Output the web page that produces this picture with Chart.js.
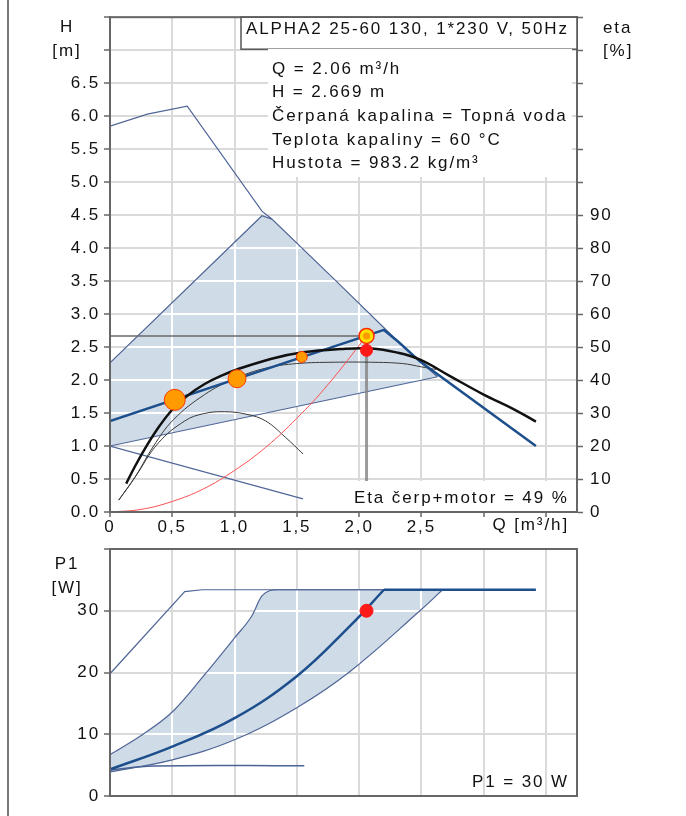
<!DOCTYPE html>
<html>
<head>
<meta charset="utf-8">
<title>ALPHA2 25-60 130</title>
<script src="https://cdn.jsdelivr.net/npm/chart.js@4.4.1/dist/chart.umd.min.js"></script>
<style>
  body { margin: 0; background: #fff; }
  #page { position: relative; width: 686px; height: 816px; overflow: hidden; }
  #frame { position: absolute; left: 7px; top: 0; width: 2px; height: 816px; background: #7a7a7a; }
  #head-chart { position: absolute; left: 0; top: 0; }
  #power-chart { position: absolute; left: 0; top: 530px; }
</style>
</head>
<body>
<div id="page">
  <div id="frame"></div>
  <canvas id="power-chart" width="686" height="286"></canvas>
  <canvas id="head-chart" width="686" height="545"></canvas>
</div>
<script>
// Pump curves, Q in m3/h

// Duty point
const dutyQ = 2.06;
const dutyH = 2.669;
const dutyEta = 49;
const dutyP1 = 30;

// Tick labels
const qTickLabels = ['0', '0,5', '1,0', '1,5', '2,0', '2,5', '', ''];
const hTickLabels = ['0.0', '0.5', '1.0', '1.5', '2.0', '2.5', '3.0', '3.5', '4.0', '4.5', '5.0', '5.5', '6.0', '6.5', '', ''];
const etaTickLabels = ['0', '10', '20', '30', '40', '50', '60', '70', '80', '90', '', '', '', '', '', ''];
const p1TickLabels = ['0', '10', '20', '30', ''];

// Texts
const titleText = 'ALPHA2 25-60 130, 1*230 V, 50Hz';
const infoLines = ['Q = 2.06 m³/h', 'H = 2.669 m', 'Čerpaná kapalina = Topná voda', 'Teplota kapaliny = 60 °C', 'Hustota = 983.2 kg/m³'];
const etaNote = 'Eta čerp+motor = 49 %';
const p1Note = 'P1 = 30 W';

// H curves [m]
const maxQ = [0, 0.3, 0.62, 1.22, 1.3];
const maxH = [5.85, 6.03, 6.15, 4.56, 4.44];
const rangeTopQ = [0, 1.22, 1.3, 1.8, 2.315, 2.49, 2.63];
const rangeTopH = [2.26, 4.49, 4.44, 3.53, 2.58, 2.28, 2.05];
const rangeLowQ = [0, 2.63];
const rangeLowH = [1.0, 2.05];
const autoQ = [0, 2.2, 2.315, 2.49, 3.42];
const autoH = [1.38, 2.76, 2.58, 2.28, 1.0];
const minQ = [0, 1.55];
const minH = [1.0, 0.2];
const systemQ = [0, 0.25, 0.5, 0.75, 1.0, 1.25, 1.5, 1.75, 2.06];
const systemH = [0, 0.04, 0.16, 0.35, 0.63, 0.98, 1.42, 1.93, 2.669];
const stepQ = [0.52, 1.02, 1.54];
const stepH = [1.70, 2.02, 2.35];

// Efficiency curves [%]
const etaMaxQ = [0.13, 0.2, 0.3, 0.4, 0.5, 0.62, 0.76, 0.9, 1.02, 1.29, 1.55, 1.85, 2.1, 2.3, 2.49, 2.73, 3.0, 3.24, 3.42];
const etaMax = [8.6, 13.8, 20.4, 26.2, 31, 35.2, 38.8, 41.4, 43.2, 46.4, 48.4, 49.4, 49.6, 48.4, 46.2, 41.2, 35.6, 31.2, 27.4];
const etaMidQ = [0.07, 0.2, 0.35, 0.51, 0.76, 1.0, 1.25, 1.5, 1.8, 2.1, 2.35, 2.5, 2.62];
const etaMid = [3.6, 10.5, 20, 28, 35.6, 40.4, 43.6, 45, 45.4, 45.4, 45, 44, 43.2];
const etaMinQ = [0.07, 0.2, 0.39, 0.6, 0.75, 0.92, 1.1, 1.25, 1.41, 1.55];
const etaMin = [3.6, 10.5, 21, 27.6, 29.8, 30.4, 29.6, 27.6, 22.6, 17.6];

// P1 curves [W]
const p1MaxQ = [0, 0.6, 0.74, 2.2];
const p1Max = [19.8, 33.1, 33.4, 33.4];
const p1TopQ = [0, 0.25, 0.5, 0.75, 1.0, 1.14, 1.22, 1.35, 2.67];
const p1Top = [6.7, 9.8, 13.6, 19.4, 25.6, 29.2, 32.4, 33.4, 33.4];
const p1LowQ = [0, 0.5, 1.0, 1.5, 1.93, 2.5, 2.67];
const p1Low = [3.9, 5.85, 9.1, 14.3, 20.2, 30.2, 33.4];
const p1AutoQ = [0, 0.5, 1.0, 1.5, 1.93, 2.2];
const p1Auto = [4.3, 8.0, 12.6, 19.4, 27.6, 33.4];
const p1FlatQ = [2.2, 3.42];
const p1Flat = [33.4, 33.4];
const p1MinQ = [0, 0.35, 1.56];
const p1Min = [4.2, 4.85, 4.9];

const thinBlue = '#4f6697';
const thickBlue = '#1d4f8c';
const shade = 'rgb(207, 219, 231)';
const gridColor = '#dadada';
const axisColor = '#666';
const textColor = '#111';
const fontFamily = '"Liberation Sans", Arial, sans-serif';
const fontSize = 17;
const spacing = '1.9px';

Chart.defaults.font.family = fontFamily;
Chart.defaults.font.size = fontSize;
Chart.defaults.color = textColor;
Chart.defaults.animation = false;
Chart.defaults.events = [];
Chart.defaults.plugins.legend.display = false;
Chart.defaults.plugins.tooltip.enabled = false;

function pts(qs, vs) {
    return qs.map((q, i) => ({ x: q, y: vs[i] }));
}

// smooth: 'spline', 'monotone' or false for straight segments
function curve(data, color, width, axis = 'y', smooth = 'spline') {
    return {
        data: data,
        yAxisID: axis,
        borderColor: color,
        borderWidth: width,
        pointRadius: 0,
        fill: false,
        tension: smooth === 'spline' ? 0.4 : 0,
        cubicInterpolationMode: smooth === 'monotone' ? 'monotone' : 'default'
    };
}

function dot(data, fillColor, edgeColor, radius, edgeWidth, axis = 'y') {
    return {
        data: data,
        yAxisID: axis,
        showLine: false,
        pointRadius: radius,
        pointBackgroundColor: fillColor,
        pointBorderColor: edgeColor,
        pointBorderWidth: edgeWidth
    };
}

// Letter spacing for every text drawn on the canvas
const textSpacing = {
    id: 'textSpacing',
    beforeUpdate(chart) { chart.ctx.letterSpacing = spacing; },
    beforeDraw(chart) { chart.ctx.letterSpacing = spacing; }
};

// White grid lines inside the shaded range, frame round the plot
function shadeGrid(upperIdx, lowerIdx) {
    return {
        id: 'shadeGrid',
        beforeDatasetsDraw(chart) {
            const { ctx, chartArea, scales } = chart;
            const upper = chart.getDatasetMeta(upperIdx).dataset;
            const lower = chart.getDatasetMeta(lowerIdx).dataset;
            ctx.save();
            ctx.beginPath();
            upper.pathSegment(ctx, upper.segments[0]);
            lower.pathSegment(ctx, lower.segments[0], { move: false, reverse: true });
            ctx.closePath();
            ctx.clip();
            ctx.strokeStyle = '#ffffff';
            ctx.lineWidth = 2;
            ctx.beginPath();
            scales.x.ticks.forEach(t => {
                const px = Math.round(scales.x.getPixelForValue(t.value));
                ctx.moveTo(px, chartArea.top);
                ctx.lineTo(px, chartArea.bottom);
            });
            scales.y.ticks.forEach(t => {
                const py = Math.round(scales.y.getPixelForValue(t.value));
                ctx.moveTo(chartArea.left, py);
                ctx.lineTo(chartArea.right, py);
            });
            ctx.stroke();
            ctx.restore();
        },
        afterDatasetsDraw(chart) {
            const { ctx, chartArea } = chart;
            ctx.save();
            ctx.strokeStyle = axisColor;
            ctx.lineWidth = 2;
            ctx.strokeRect(chartArea.left, chartArea.top, chartArea.right - chartArea.left, chartArea.bottom - chartArea.top);
            ctx.restore();
        }
    };
}

function text(ctx, str, x, y, align = 'left') {
    ctx.textAlign = align;
    ctx.fillText(str, x, y);
}

const headNotes = {
    id: 'headNotes',
    afterDraw(chart) {
        const { ctx, chartArea } = chart;
        const right = chartArea.right;
        ctx.save();
        ctx.letterSpacing = spacing;
        ctx.font = fontSize + 'px ' + fontFamily;
        ctx.textBaseline = 'alphabetic';

        // title box
        ctx.fillStyle = '#fff';
        ctx.fillRect(241, chartArea.top, right - 241, 32);
        ctx.strokeStyle = '#555';
        ctx.lineWidth = 1.5;
        ctx.strokeRect(241, chartArea.top, right - 241, 32);
        ctx.fillStyle = textColor;
        text(ctx, titleText, 246, 34);

        // info box
        ctx.fillStyle = '#fff';
        ctx.fillRect(268, 49, right - 273, 128);
        ctx.fillStyle = textColor;
        infoLines.forEach((line, i) => text(ctx, line, 272, 73.5 + i * 23.7));

        // efficiency note
        ctx.fillStyle = '#fff';
        ctx.fillRect(350, 481, right - 351, chartArea.bottom - 482);
        ctx.fillStyle = textColor;
        text(ctx, etaNote, 354, 502.5);

        // axis titles
        text(ctx, 'Q [m³/h]', 569, 529.5, 'right');
        text(ctx, 'H', 67, 32, 'center');
        text(ctx, '[m]', 67, 56, 'center');
        text(ctx, 'eta', 603, 33);
        text(ctx, '[%]', 603, 56);
        ctx.restore();
    }
};

const powerNotes = {
    id: 'powerNotes',
    afterDraw(chart) {
        const { ctx } = chart;
        ctx.save();
        ctx.letterSpacing = spacing;
        ctx.font = fontSize + 'px ' + fontFamily;
        ctx.fillStyle = textColor;
        text(ctx, 'P1', 67, 38.5, 'center');
        text(ctx, '[W]', 67, 63, 'center');
        text(ctx, p1Note, 569, 257, 'right');
        ctx.restore();
    }
};

// Head / efficiency chart, datasets listed top-most first
const headDatasets = [
    dot([{ x: dutyQ, y: dutyH }], '#ff9900', '#ff9900', 3.5, 0),
    dot([{ x: dutyQ, y: dutyH }], '#ffe000', '#ff2a00', 7.5, 1.5),
    dot([{ x: dutyQ, y: dutyEta }], '#ff1a1a', '#ff1a1a', 6, 1, 'y2'),
    { ...dot(pts(stepQ, stepH), '#ff9a00', '#ff3a00', 0, 1), pointRadius: [10.5, 9, 5.5] },
    curve(pts(etaMaxQ, etaMax), '#111', 2.5, 'y2'),
    curve(pts(autoQ, autoH), thickBlue, 2.5, 'y', false),
    curve(pts(systemQ, systemH), '#ff5050', 1),
    curve(pts(etaMidQ, etaMid), '#3a3a3a', 1, 'y2'),
    curve(pts(etaMinQ, etaMin), '#3a3a3a', 1, 'y2'),
    curve(pts(minQ, minH), thinBlue, 1.2, 'y', false),
    curve(pts(maxQ, maxH), thinBlue, 1.2, 'y', false),
    curve(pts([0, dutyQ], [dutyH, dutyH]), '#6a6a6a', 1.5, 'y', false),
    curve(pts([dutyQ, dutyQ], [0, dutyH]), 'rgba(130, 130, 130, 0.8)', 3, 'y', false),
    { ...curve(pts(rangeTopQ, rangeTopH), thinBlue, 1.2, 'y', false), fill: '+1', backgroundColor: shade },
    curve(pts(rangeLowQ, rangeLowH), thinBlue, 1.2, 'y', false)
];

const headCtx = document.getElementById('head-chart').getContext('2d');
const headChart = new Chart(headCtx, {
    type: 'line',
    data: { datasets: headDatasets },
    options: {
        responsive: false,
        devicePixelRatio: 1,
        layout: { padding: { top: 13, left: 0, right: 0, bottom: 0 } },
        plugins: { filler: { drawTime: 'beforeDatasetsDraw' } },
        scales: {
            x: {
                type: 'linear',
                min: 0,
                max: 3.75,
                ticks: {
                    stepSize: 0.5,
                    includeBounds: false,
                    autoSkip: false,
                    maxRotation: 0,
                    padding: 0,
                    callback: (value, index) => qTickLabels[index]
                },
                grid: { color: gridColor, lineWidth: 2, tickLength: 5, tickColor: axisColor, tickWidth: 1.5 },
                border: { color: axisColor, width: 2 },
                afterFit: scale => { scale.height = 33; }
            },
            y: {
                position: 'left',
                min: 0,
                max: 7.5,
                ticks: {
                    stepSize: 0.5,
                    autoSkip: false,
                    padding: 4,
                    callback: (value, index) => hTickLabels[index]
                },
                grid: { color: gridColor, lineWidth: 2, tickLength: 6, tickColor: axisColor, tickWidth: 1.5 },
                border: { color: axisColor, width: 2 },
                afterFit: scale => { scale.width = 110; }
            },
            y2: {
                position: 'right',
                min: 0,
                max: 150,
                ticks: {
                    stepSize: 10,
                    autoSkip: false,
                    padding: 7,
                    callback: (value, index) => etaTickLabels[index]
                },
                grid: { drawOnChartArea: false, tickLength: 6, tickColor: axisColor, tickWidth: 1.5 },
                border: { color: axisColor, width: 2 },
                afterFit: scale => { scale.width = 109; }
            }
        }
    },
    plugins: [textSpacing, shadeGrid(13, 14), headNotes]
});

// Power chart, datasets listed top-most first
const powerDatasets = [
    dot([{ x: dutyQ, y: dutyP1 }], '#ff1a1a', '#ff1a1a', 6.5, 1),
    curve(pts(p1AutoQ, p1Auto), thickBlue, 2.5),
    curve(pts(p1FlatQ, p1Flat), thickBlue, 2.5, 'y', false),
    curve(pts(p1MinQ, p1Min), '#4a6396', 1.5),
    curve(pts(p1MaxQ, p1Max), thinBlue, 1.2, 'y', false),
    { ...curve(pts(p1TopQ, p1Top), thinBlue, 1.2, 'y', 'monotone'), fill: '+1', backgroundColor: shade },
    curve(pts(p1LowQ, p1Low), thinBlue, 1.2)
];

const powerCtx = document.getElementById('power-chart').getContext('2d');
const powerChart = new Chart(powerCtx, {
    type: 'line',
    data: { datasets: powerDatasets },
    options: {
        responsive: false,
        devicePixelRatio: 1,
        layout: { padding: { top: 19, left: 0, right: 109, bottom: 0 } },
        plugins: { filler: { drawTime: 'beforeDatasetsDraw' } },
        scales: {
            x: {
                type: 'linear',
                min: 0,
                max: 3.75,
                ticks: { display: false, stepSize: 0.5, includeBounds: false },
                grid: { color: gridColor, lineWidth: 2, drawTicks: false },
                border: { color: axisColor, width: 2 },
                afterFit: scale => { scale.height = 20; }
            },
            y: {
                position: 'left',
                min: 0,
                max: 40,
                ticks: {
                    stepSize: 10,
                    autoSkip: false,
                    padding: 4,
                    callback: (value, index) => p1TickLabels[index]
                },
                grid: { color: gridColor, lineWidth: 2, tickLength: 6, tickColor: axisColor, tickWidth: 1.5 },
                border: { color: axisColor, width: 2 },
                afterFit: scale => { scale.width = 110; }
            }
        }
    },
    plugins: [textSpacing, shadeGrid(5, 6), powerNotes]
});
</script>
</body>
</html>
